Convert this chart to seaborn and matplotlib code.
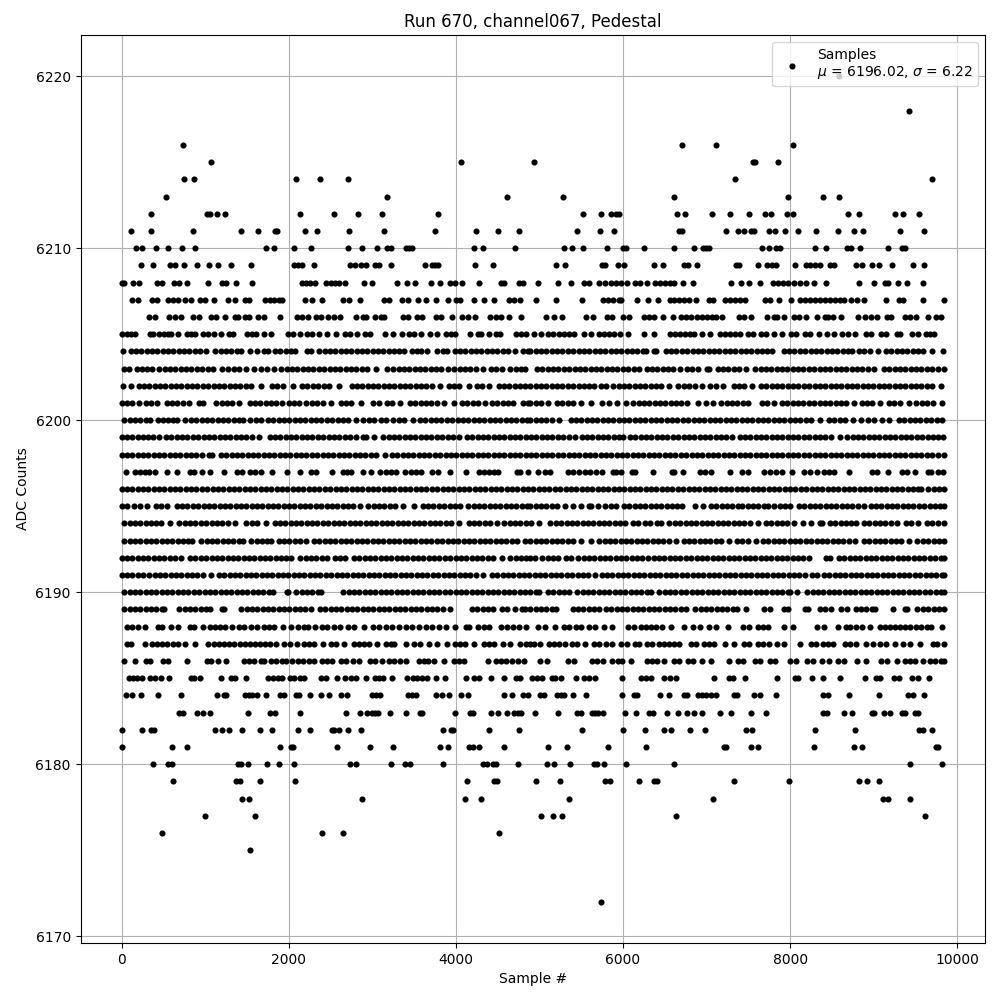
import pandas as pd
import matplotlib
matplotlib.use('Agg')
import matplotlib.pyplot as plt
import seaborn as sns

# sample numbers, one list per ADC level
s6172 = [5740]
s6175 = [1532]
s6176 = [488, 2396, 2648, 4520]
s6177 = [992, 1592, 5016, 5160, 5268, 6636, 9612]
s6178 = [1436, 1520, 2876, 4112, 4304, 5352, 7080, 9108, 9168, 9432]
s6179 = [620, 1364, 1412, 1652, 2072, 4136, 4460, 4496, 4956, 5244, 5784, 5844, 6192, 6372, 6408, 7332, 7992, 8820, 8916, 9060]
s6180 = [380, 560, 608, 1388, 1424, 1508, 1736, 1880, 2060, 2732, 2804, 3224, 3392, 3452, 3848, 4328, 4376, 4448, 4484, 4740,
         5088, 5172, 5364, 5652, 5684, 5772, 6036, 6612, 9432, 9816]
s6181 = [8, 608, 788, 1892, 2024, 2048, 2576, 2972, 3248, 3812, 3908, 4160, 4208, 4280, 4580,
         5100, 5328, 5820, 6276, 7212, 7236, 7536, 7620, 8280, 8760, 8856, 9748, 9772]
s6182 = [8, 248, 356, 392, 1112, 1196, 1280, 1436, 1652, 1796, 2108, 2252, 2516, 2540, 2600, 2708, 2864, 3848, 3944, 3968, 4400, 4760,
         5508, 6000, 6264, 6492, 6576, 6804, 6984, 7476, 7548, 8292, 8772, 9540, 9592, 9696]
s6183 = [692, 740, 908, 968, 1052, 1508, 1772, 1832, 2132, 2684, 2852, 2936, 2996, 3032, 3068, 3212, 3404, 3572, 3596, 3992, 4172, 4208,
         4424, 4508, 4616, 4700, 4740, 4784, 4944, 5220, 5448, 5496, 5628, 5664, 5700, 5760, 6024, 6156, 6312, 6360, 6528, 6660, 6768,
         6852, 6948, 7164, 7296, 7536, 7716, 8388, 8436, 8640, 8736, 8976, 9000, 9120, 9192, 9336, 9372, 9492, 9528]
s6184 = [56, 128, 236, 440, 716, 1136, 1220, 1244, 1472, 1520, 1556, 1616, 1724, 1892, 1940, 2084, 2120, 2252, 2384, 2480, 2624, 2696,
         2996, 3044, 3092, 3428, 3476, 3524, 3764, 3836, 3920, 4064, 4148, 4580, 4668, 4808, 4860, 5004, 5052, 5208, 5256, 5292, 5400,
         5556, 5992, 6132, 6168, 6444, 6552, 6732, 6768, 6900, 6948, 6996, 7056, 7116, 7332, 7368, 7572, 7644, 7836, 8388, 8448, 8700,
         9060, 9412, 9468, 9600]
s6185 = [92, 140, 188, 248, 344, 404, 476, 572, 836, 872, 944, 1184, 1304, 1352, 1484, 1748, 1808, 1868, 1916, 2012, 2060, 2140, 2180,
         2384, 2444, 2576, 2672, 2740, 2804, 2924, 3032, 3080, 3128, 3236, 3416, 3488, 3536, 3596, 3656, 3764, 3872, 4124, 4220, 4280,
         4424, 4580, 4724, 4772, 4912, 4972, 5032, 5148, 5184, 5256, 5436, 5532, 5592, 5660, 5988, 6216, 6276, 6336, 6492, 6564, 6636,
         7092, 7272, 7320, 7464, 7848, 8064, 8100, 8256, 8388, 8592, 8892, 9024, 9072, 9240, 9300, 9456, 9528, 9660]
s6186 = [32, 164, 296, 344, 500, 560, 788, 1016, 1064, 1148, 1244, 1460, 1520, 1580, 1664, 1700, 1784, 1844, 1916, 1964, 2036, 2108, 2168,
         2240, 2300, 2396, 2456, 2516, 2624, 2684, 2768, 2840, 2972, 3032, 3116, 3200, 3260, 3332, 3404, 3560, 3620, 3668, 3740, 3860,
         3980, 4040, 4100, 4388, 4480, 4540, 4600, 4668, 4740, 4820, 5004, 5092, 5340, 5412, 5628, 5692, 5764, 5868, 5940, 5988, 6096,
         6288, 6348, 6408, 6492, 6612, 6672, 6780, 6840, 6948, 7056, 7272, 7372, 7440, 7584, 7644, 7764, 7824, 8004, 8076, 8196, 8268,
         8376, 8460, 8568, 8640, 8796, 8904, 9084, 9156, 9276, 9372, 9432, 9492, 9592, 9672, 9732, 9804, 9840]
s6187 = [68, 116, 284, 368, 428, 488, 540, 620, 680, 764, 884, 1028, 1100, 1160, 1220, 1280, 1340, 1420, 1480, 1540, 1600, 1660, 1720, 1780,
         1844, 1940, 2012, 2096, 2180, 2240, 2300, 2408, 2500, 2560, 2660, 2780, 2840, 2900, 2960, 3060, 3160, 3220, 3260, 3404, 3500,
         3572, 3680, 3776, 3888, 3988, 4048, 4108, 4220, 4340, 4400, 4460, 4560, 4644, 4772, 4840, 4892, 4932, 5012, 5112, 5172, 5232,
         5304, 5392, 5452, 5544, 5652, 5712, 5792, 5872, 5972, 6052, 6140, 6192, 6292, 6352, 6432, 6492, 6552, 6612, 6672, 6812, 6872,
         6972, 7032, 7092, 7220, 7332, 7452, 7512, 7612, 7680, 7748, 7848, 7932, 8124, 8252, 8312, 8392, 8452, 8512, 8652, 8712, 8792,
         8912, 8992, 9072, 9152, 9252, 9352, 9432, 9552, 9712, 9752, 9840]
s6188 = [60, 120, 200, 280, 440, 488, 596, 680, 820, 872, 976, 1060, 1120, 1180, 1240, 1320, 1400, 1460, 1548, 1620, 1700, 1760, 1828, 1928,
         2024, 2108, 2180, 2228, 2320, 2400, 2460, 2540, 2612, 2708, 2780, 2900, 3008, 3080, 3160, 3240, 3320, 3400, 3480, 3560, 3640,
         3720, 3800, 3880, 3988, 4120, 4160, 4260, 4340, 4400, 4540, 4612, 4680, 4760, 4840, 4980, 5072, 5184, 5288, 5352, 5432, 5492,
         5592, 5664, 5772, 5872, 6064, 6132, 6212, 6272, 6332, 6392, 6472, 6572, 6724, 6832, 6924, 7032, 7112, 7252, 7432, 7512, 7612,
         7672, 7740, 7932, 8032, 8324, 8400, 8568, 8664, 8712, 8784, 8864, 8952, 9072, 9132, 9192, 9252, 9312, 9372, 9432, 9512, 9572,
         9632, 9684, 9812]
s6189 = [32, 96, 160, 224, 288, 352, 416, 480, 508, 692, 756, 820, 884, 948, 1012, 1060, 1204, 1228, 1432, 1496, 1560, 1624, 1688, 1752, 1816,
         1880, 1944, 2008, 2072, 2136, 2200, 2268, 2372, 2436, 2500, 2564, 2628, 2692, 2756, 2820, 2884, 2948, 3012, 3076, 3140, 3204,
         3268, 3332, 3396, 3460, 3524, 3588, 3652, 3716, 3780, 3844, 3928, 4192, 4256, 4320, 4384, 4448, 4552, 4616, 4708, 4792, 4828,
         4892, 4956, 5020, 5084, 5148, 5196, 5396, 5460, 5524, 5588, 5652, 5708, 5792, 5852, 5924, 5988, 6052, 6116, 6180, 6244, 6308,
         6372, 6436, 6500, 6564, 6628, 6692, 6748, 6864, 6928, 6992, 7056, 7120, 7184, 7248, 7312, 7360, 7472, 7684, 7760, 7932, 7980,
         8172, 8212, 8356, 8420, 8492, 8604, 8680, 8784, 8848, 8912, 8976, 9020, 9232, 9372, 9400, 9524, 9588, 9652, 9716, 9780, 9840]
s6190 = [32, 96, 160, 224, 288, 352, 416, 480, 544, 608, 672, 736, 800, 864, 928, 992, 1056, 1120, 1184, 1248, 1312, 1376, 1440, 1504, 1568,
         1632, 1696, 1760, 1808, 1980, 1996, 2092, 2156, 2220, 2284, 2348, 2388, 2652, 2716, 2780, 2844, 2908, 2972, 3036, 3100, 3164,
         3228, 3292, 3356, 3420, 3484, 3548, 3612, 3676, 3740, 3804, 3868, 3932, 3996, 4060, 4124, 4188, 4252, 4316, 4380, 4444, 4508,
         4572, 4636, 4700, 4764, 4828, 4892, 4956, 5000, 5104, 5168, 5232, 5296, 5348, 5452, 5516, 5580, 5644, 5708, 5772, 5836, 5900,
         5964, 6028, 6092, 6156, 6220, 6284, 6340, 6436, 6500, 6564, 6628, 6692, 6756, 6820, 6884, 6948, 7012, 7076, 7140, 7204, 7268,
         7332, 7396, 7460, 7524, 7588, 7652, 7716, 7780, 7844, 7908, 7972, 8000, 8088, 8204, 8268, 8332, 8396, 8460, 8524, 8588, 8652,
         8716, 8780, 8844, 8908, 8972, 9036, 9100, 9164, 9228, 9292, 9356, 9420, 9484, 9548, 9612, 9676, 9740, 9804, 9840]
s6191 = [0, 64, 128, 192, 260, 332, 396, 460, 524, 588, 652, 716, 780, 844, 908, 972, 1068, 1164, 1228, 1292, 1356, 1420, 1484, 1548, 1612,
         1676, 1740, 1804, 1868, 1932, 1996, 2060, 2124, 2188, 2252, 2316, 2380, 2444, 2508, 2572, 2636, 2700, 2764, 2828, 2892, 2956,
         3020, 3084, 3148, 3212, 3276, 3340, 3404, 3468, 3532, 3596, 3660, 3724, 3788, 3852, 3916, 3980, 4044, 4108, 4172, 4236, 4328,
         4432, 4496, 4560, 4624, 4688, 4752, 4816, 4880, 4944, 5008, 5072, 5136, 5200, 5264, 5328, 5392, 5456, 5520, 5584, 5660, 5744,
         5808, 5872, 5936, 6000, 6064, 6128, 6192, 6256, 6320, 6384, 6448, 6512, 6576, 6640, 6704, 6768, 6832, 6896, 6960, 7024, 7088,
         7152, 7216, 7280, 7344, 7408, 7472, 7536, 7600, 7664, 7728, 7792, 7856, 7920, 7984, 8048, 8112, 8180, 8264, 8320, 8404, 8468,
         8532, 8596, 8660, 8724, 8788, 8852, 8916, 8980, 9044, 9108, 9172, 9236, 9300, 9364, 9428, 9492, 9556, 9620, 9684, 9748, 9812, 9840]
s6192 = [0, 64, 128, 192, 256, 320, 384, 448, 512, 576, 640, 708, 820, 884, 948, 1012, 1076, 1140, 1204, 1268, 1332, 1396, 1460, 1524, 1588,
         1652, 1716, 1780, 1844, 1908, 1972, 2028, 2140, 2204, 2268, 2332, 2396, 2452, 2548, 2612, 2668, 2780, 2844, 2908, 2972, 3036,
         3100, 3164, 3228, 3292, 3356, 3420, 3484, 3548, 3612, 3676, 3740, 3804, 3868, 3932, 3996, 4060, 4124, 4188, 4252, 4316, 4380,
         4444, 4548, 4652, 4716, 4780, 4844, 4892, 4950, 5036, 5100, 5164, 5228, 5320, 5380, 5464, 5528, 5592, 5656, 5720, 5784, 5848,
         5912, 5976, 6040, 6104, 6168, 6228, 6304, 6368, 6432, 6496, 6560, 6624, 6688, 6752, 6816, 6880, 6944, 7008, 7072, 7136, 7200,
         7264, 7328, 7392, 7456, 7520, 7584, 7648, 7712, 7776, 7840, 7904, 7968, 8032, 8096, 8160, 8220, 8424, 8480, 8584, 8648, 8712,
         8776, 8840, 8904, 8968, 9032, 9096, 9160, 9224, 9288, 9352, 9416, 9480, 9544, 9608, 9672, 9736, 9800, 9840]
s6193 = [32, 96, 160, 224, 288, 352, 416, 480, 544, 608, 672, 736, 800, 848, 952, 1016, 1080, 1144, 1208, 1272, 1336, 1400, 1452, 1552, 1616,
         1680, 1744, 1788, 1880, 1944, 2008, 2072, 2136, 2208, 2300, 2364, 2428, 2492, 2556, 2620, 2684, 2748, 2812, 2876, 2940, 3004,
         3068, 3132, 3196, 3260, 3324, 3388, 3452, 3516, 3580, 3644, 3708, 3772, 3836, 3900, 3964, 4028, 4092, 4156, 4220, 4284, 4348,
         4412, 4476, 4540, 4604, 4668, 4728, 4832, 4892, 4956, 5020, 5084, 5148, 5212, 5276, 5340, 5404, 5500, 5616, 5716, 5780, 5844,
         5908, 5972, 6036, 6100, 6164, 6228, 6292, 6356, 6420, 6484, 6548, 6632, 6724, 6788, 6852, 6916, 6980, 7044, 7108, 7172, 7268,
         7364, 7428, 7492, 7588, 7676, 7740, 7804, 7868, 7932, 7996, 8060, 8124, 8188, 8252, 8316, 8380, 8444, 8508, 8572, 8636, 8700,
         8780, 8884, 8948, 9012, 9076, 9140, 9204, 9268, 9332, 9428, 9524, 9588, 9652, 9716, 9780, 9840]
s6194 = [32, 96, 160, 224, 288, 352, 416, 468, 584, 692, 756, 820, 884, 948, 1012, 1076, 1140, 1204, 1268, 1356, 1492, 1556, 1620, 1728, 1832,
         1896, 1960, 2024, 2088, 2152, 2216, 2280, 2344, 2408, 2472, 2536, 2600, 2664, 2728, 2792, 2856, 2920, 2984, 3048, 3112, 3176,
         3240, 3304, 3368, 3432, 3496, 3560, 3624, 3688, 3752, 3816, 3880, 3944, 4036, 4152, 4216, 4280, 4344, 4408, 4488, 4580, 4644,
         4708, 4772, 4836, 4900, 4998, 5132, 5196, 5260, 5324, 5388, 5452, 5516, 5580, 5644, 5708, 5772, 5836, 5900, 5964, 6020, 6124,
         6180, 6264, 6320, 6404, 6460, 6556, 6620, 6684, 6748, 6812, 6876, 6940, 7004, 7068, 7132, 7196, 7260, 7324, 7388, 7452, 7516,
         7620, 7712, 7776, 7840, 7904, 7968, 8048, 8156, 8252, 8356, 8380, 8476, 8540, 8604, 8668, 8732, 8788, 8884, 8948, 9012, 9076,
         9140, 9204, 9280, 9384, 9448, 9532, 9636, 9700, 9764, 9840]
s6195 = [0, 68, 152, 216, 308, 412, 476, 548, 660, 724, 788, 852, 916, 980, 1044, 1108, 1172, 1236, 1300, 1364, 1428, 1492, 1556, 1620, 1684,
         1748, 1812, 1876, 1940, 2004, 2068, 2132, 2196, 2260, 2324, 2388, 2452, 2516, 2580, 2644, 2708, 2772, 2848, 2952, 3016, 3080,
         3144, 3208, 3276, 3370, 3500, 3604, 3668, 3732, 3796, 3860, 3924, 3988, 4052, 4140, 4212, 4276, 4340, 4404, 4468, 4532, 4596,
         4660, 4724, 4788, 4852, 4892, 4956, 5020, 5084, 5148, 5212, 5300, 5396, 5500, 5592, 5620, 5704, 5788, 5852, 5920, 6012, 6076,
         6140, 6204, 6268, 6332, 6396, 6460, 6524, 6588, 6652, 6708, 6864, 6960, 7052, 7116, 7180, 7244, 7308, 7372, 7420, 7492, 7556,
         7620, 7684, 7732, 7812, 7876, 7940, 8000, 8104, 8168, 8232, 8296, 8360, 8424, 8488, 8552, 8616, 8680, 8744, 8808, 8880, 8964,
         9028, 9092, 9156, 9220, 9284, 9348, 9412, 9476, 9540, 9604, 9668, 9732, 9796, 9840]
s6196 = [0, 64, 128, 192, 256, 320, 384, 448, 512, 576, 640, 704, 768, 832, 896, 960, 1024, 1088, 1152, 1216, 1280, 1344, 1408, 1472, 1536,
         1600, 1664, 1728, 1792, 1856, 1920, 1984, 2048, 2112, 2176, 2240, 2304, 2368, 2432, 2496, 2560, 2624, 2688, 2752, 2816, 2880,
         2944, 3008, 3072, 3136, 3200, 3264, 3328, 3392, 3456, 3520, 3584, 3648, 3712, 3776, 3840, 3904, 3968, 4032, 4096, 4160, 4224,
         4288, 4352, 4416, 4480, 4544, 4608, 4672, 4736, 4800, 4864, 4928, 4992, 5056, 5120, 5184, 5248, 5312, 5376, 5440, 5504, 5568,
         5632, 5696, 5760, 5824, 5888, 5952, 6016, 6080, 6144, 6208, 6272, 6336, 6400, 6464, 6528, 6592, 6656, 6720, 6784, 6848, 6912,
         6976, 7040, 7104, 7168, 7232, 7296, 7360, 7424, 7488, 7552, 7616, 7680, 7744, 7808, 7872, 7936, 8000, 8064, 8128, 8192, 8256,
         8320, 8384, 8448, 8512, 8576, 8640, 8704, 8768, 8832, 8896, 8960, 9024, 9088, 9152, 9216, 9280, 9344, 9408, 9472, 9536, 9572,
         9652, 9716, 9780, 9840]
s6197 = [52, 160, 220, 280, 332, 400, 540, 660, 820, 868, 960, 1060, 1220, 1380, 1440, 1532, 1600, 1668, 1794, 1980, 2132, 2272, 2328, 2520,
         2652, 2700, 2748, 2890, 2988, 3092, 3160, 3228, 3288, 3392, 3460, 3528, 3588, 3712, 3788, 3932, 4120, 4272, 4340, 4400, 4460,
         4508, 4732, 4768, 4860, 4980, 5072, 5132, 5336, 5400, 5470, 5540, 5610, 5680, 5752, 5880, 5920, 5980, 6104, 6140, 6356, 6584,
         6612, 6720, 6916, 6980, 7052, 7284, 7420, 7500, 7684, 7760, 7830, 7900, 8020, 8164, 8240, 8316, 8400, 8470, 8520, 8700, 8984,
         9040, 9172, 9344, 9400, 9492, 9644, 9680, 9772, 9832]
s6198 = [0, 64, 128, 192, 256, 320, 384, 448, 512, 576, 640, 704, 768, 832, 896, 960, 1048, 1080, 1188, 1252, 1316, 1380, 1444, 1508, 1572,
         1636, 1700, 1764, 1828, 1892, 1956, 2020, 2084, 2148, 2212, 2276, 2340, 2404, 2468, 2532, 2596, 2660, 2724, 2788, 2852, 2916,
         2980, 3044, 3148, 3236, 3300, 3364, 3428, 3492, 3556, 3620, 3684, 3748, 3812, 3876, 3940, 4004, 4068, 4132, 4196, 4260, 4324,
         4388, 4452, 4516, 4580, 4644, 4708, 4772, 4836, 4900, 4964, 5028, 5092, 5156, 5220, 5284, 5348, 5412, 5476, 5540, 5604, 5668,
         5732, 5796, 5860, 5924, 5988, 6052, 6116, 6180, 6244, 6308, 6372, 6436, 6500, 6564, 6628, 6692, 6756, 6820, 6884, 6948, 7012,
         7076, 7140, 7204, 7268, 7332, 7396, 7460, 7524, 7588, 7652, 7716, 7780, 7844, 7908, 7972, 8036, 8100, 8164, 8228, 8292, 8356,
         8420, 8484, 8548, 8612, 8676, 8740, 8804, 8868, 8932, 8996, 9060, 9124, 9188, 9252, 9316, 9380, 9444, 9508, 9572, 9636, 9700,
         9764, 9840]
s6199 = [0, 64, 128, 192, 256, 320, 380, 452, 532, 596, 660, 724, 788, 852, 916, 980, 1044, 1108, 1172, 1236, 1300, 1364, 1428, 1492, 1556,
         1648, 1772, 1836, 1900, 1964, 2028, 2092, 2156, 2220, 2284, 2348, 2412, 2476, 2540, 2604, 2668, 2732, 2808, 2892, 2928, 3020,
         3132, 3196, 3260, 3324, 3388, 3452, 3516, 3580, 3644, 3708, 3772, 3836, 3900, 3964, 4036, 4132, 4196, 4260, 4324, 4388, 4452,
         4516, 4580, 4644, 4708, 4772, 4836, 4900, 4964, 5028, 5092, 5156, 5220, 5284, 5348, 5420, 5504, 5568, 5632, 5696, 5760, 5824,
         5888, 5952, 6000, 6084, 6148, 6212, 6276, 6340, 6404, 6468, 6532, 6596, 6660, 6724, 6788, 6852, 6916, 6980, 7044, 7108, 7172,
         7236, 7308, 7396, 7460, 7524, 7588, 7652, 7716, 7780, 7844, 7908, 7972, 8036, 8100, 8164, 8228, 8292, 8356, 8420, 8484, 8600,
         8684, 8748, 8812, 8876, 8940, 9004, 9068, 9132, 9196, 9260, 9324, 9388, 9452, 9516, 9580, 9644, 9708, 9772, 9828]
s6200 = [32, 96, 160, 224, 288, 336, 432, 496, 560, 612, 668, 764, 828, 892, 956, 1020, 1084, 1148, 1212, 1276, 1340, 1404, 1448, 1540, 1604,
         1668, 1752, 1816, 1880, 1944, 2008, 2072, 2136, 2200, 2264, 2328, 2392, 2456, 2520, 2584, 2648, 2712, 2808, 2892, 2956, 3020,
         3100, 3168, 3252, 3316, 3380, 3488, 3572, 3636, 3700, 3764, 3828, 3892, 3956, 4020, 4084, 4148, 4212, 4276, 4340, 4404, 4468,
         4532, 4596, 4660, 4724, 4788, 4852, 4892, 4956, 5020, 5084, 5148, 5240, 5372, 5436, 5500, 5564, 5628, 5692, 5756, 5820, 5884,
         5948, 6012, 6076, 6140, 6204, 6268, 6332, 6396, 6460, 6524, 6588, 6652, 6716, 6780, 6844, 6908, 6972, 7036, 7100, 7164, 7228,
         7292, 7356, 7420, 7484, 7548, 7612, 7676, 7740, 7804, 7868, 7932, 7996, 8060, 8124, 8188, 8252, 8360, 8464, 8528, 8592, 8656,
         8748, 8844, 8932, 9004, 9104, 9188, 9304, 9368, 9432, 9496, 9560, 9624, 9688, 9752, 9820]
s6201 = [0, 64, 128, 208, 292, 356, 428, 540, 604, 668, 732, 808, 924, 968, 1132, 1196, 1260, 1324, 1408, 1532, 1596, 1660, 1724, 1788, 1852,
         1916, 2004, 2068, 2128, 2212, 2276, 2340, 2404, 2500, 2620, 2684, 2748, 2868, 3004, 3076, 3172, 3236, 3328, 3452, 3516, 3580,
         3644, 3708, 3772, 3860, 3972, 4072, 4136, 4200, 4264, 4348, 4432, 4496, 4560, 4624, 4688, 4804, 4868, 4892, 4956, 5020, 5108,
         5212, 5276, 5340, 5404, 5492, 5616, 5752, 5836, 5928, 6032, 6124, 6188, 6252, 6316, 6380, 6444, 6508, 6572, 6636, 6700, 6764,
         6900, 6996, 7080, 7176, 7240, 7304, 7368, 7432, 7500, 7664, 7728, 7812, 7904, 7968, 8032, 8096, 8160, 8224, 8288, 8352, 8416,
         8480, 8544, 8608, 8672, 8760, 8856, 8920, 8984, 9080, 9184, 9248, 9312, 9420, 9512, 9576, 9640, 9704, 9812]
s6202 = [12, 108, 204, 268, 332, 396, 460, 524, 588, 652, 716, 780, 844, 908, 972, 1036, 1100, 1164, 1228, 1292, 1356, 1420, 1484, 1548, 1668,
         1800, 1864, 1928, 2048, 2160, 2224, 2288, 2352, 2416, 2480, 2596, 2752, 2816, 2880, 2944, 3008, 3072, 3136, 3200, 3264, 3328,
         3392, 3456, 3520, 3584, 3648, 3712, 3808, 3912, 3976, 4040, 4156, 4252, 4316, 4396, 4512, 4576, 4640, 4704, 4768, 4828, 4892,
         4956, 5020, 5084, 5148, 5212, 5276, 5340, 5404, 5468, 5532, 5596, 5652, 5732, 5800, 5884, 5948, 6012, 6076, 6140, 6204, 6268,
         6332, 6396, 6460, 6548, 6664, 6728, 6792, 6856, 6948, 7044, 7108, 7200, 7324, 7388, 7452, 7548, 7652, 7716, 7780, 7844, 7908,
         7972, 8036, 8100, 8164, 8228, 8292, 8356, 8420, 8484, 8548, 8612, 8676, 8740, 8804, 8868, 8932, 8996, 9060, 9124, 9188, 9252,
         9316, 9380, 9444, 9508, 9572, 9636, 9700, 9800]
s6203 = [32, 88, 180, 244, 308, 368, 452, 516, 580, 644, 708, 772, 836, 900, 964, 1028, 1092, 1196, 1276, 1340, 1404, 1488, 1580, 1672, 1736,
         1828, 1912, 1976, 2040, 2104, 2168, 2232, 2296, 2360, 2424, 2488, 2552, 2616, 2680, 2744, 2808, 2872, 2936, 3048, 3172, 3252,
         3316, 3380, 3444, 3508, 3572, 3636, 3700, 3764, 3828, 3908, 3980, 4044, 4108, 4172, 4236, 4328, 4420, 4484, 4548, 4652, 4716,
         4780, 4828, 4972, 5036, 5100, 5164, 5228, 5292, 5356, 5420, 5484, 5548, 5612, 5676, 5740, 5804, 5868, 5932, 5996, 6060, 6132,
         6192, 6284, 6348, 6412, 6476, 6540, 6604, 6680, 6764, 6828, 6900, 7004, 7028, 7132, 7196, 7260, 7324, 7388, 7468, 7584, 7648,
         7712, 7776, 7840, 7904, 7968, 8032, 8096, 8160, 8224, 8288, 8352, 8416, 8480, 8544, 8608, 8672, 8736, 8800, 8864, 8928, 9000,
         9124, 9188, 9252, 9316, 9380, 9444, 9508, 9572, 9636, 9700, 9764, 9840]
s6204 = [12, 112, 176, 228, 300, 364, 428, 492, 556, 620, 684, 748, 812, 876, 940, 1008, 1120, 1184, 1248, 1312, 1376, 1428, 1540, 1620, 1704,
         1748, 1836, 1900, 1964, 2028, 2080, 2220, 2268, 2364, 2428, 2492, 2556, 2620, 2684, 2748, 2812, 2876, 2940, 3004, 3068, 3132,
         3196, 3260, 3324, 3380, 3480, 3540, 3588, 3652, 3780, 3840, 3888, 3984, 4048, 4112, 4176, 4240, 4304, 4368, 4432, 4496, 4560,
         4624, 4708, 4804, 4868, 4892, 4956, 5020, 5084, 5148, 5212, 5276, 5340, 5404, 5468, 5532, 5596, 5660, 5724, 5788, 5852, 5916,
         5980, 6044, 6108, 6172, 6236, 6280, 6372, 6392, 6512, 6576, 6640, 6704, 6768, 6832, 6896, 6960, 7024, 7088, 7152, 7216, 7280,
         7344, 7408, 7472, 7536, 7600, 7664, 7728, 7788, 7924, 7988, 8052, 8116, 8180, 8244, 8308, 8372, 8436, 8500, 8564, 8628, 8692,
         8740, 8824, 8888, 8952, 9052, 9148, 9212, 9276, 9340, 9404, 9468, 9532, 9596, 9692, 9828]
s6205 = [0, 68, 116, 164, 344, 380, 452, 512, 560, 596, 680, 788, 836, 884, 968, 1028, 1100, 1184, 1280, 1328, 1496, 1556, 1604, 1700, 1784,
         1988, 2048, 2132, 2216, 2276, 2360, 2456, 2564, 2672, 2732, 2816, 2912, 2972, 3152, 3248, 3356, 3440, 3500, 3584, 3692, 3776,
         3884, 3944, 3992, 4172, 4268, 4304, 4400, 4484, 4532, 4724, 4784, 4844, 4932, 5016, 5100, 5160, 5232, 5292, 5352, 5412, 5532,
         5616, 5712, 5772, 5832, 5892, 5964, 6060, 6252, 6372, 6564, 6624, 6684, 6744, 6804, 6852, 6948, 7044, 7164, 7224, 7284, 7344,
         7404, 7500, 7560, 7656, 7716, 7812, 7908, 8016, 8076, 8172, 8232, 8340, 8436, 8520, 8616, 8688, 8772, 8904, 8964, 9084, 9144,
         9276, 9312, 9456, 9528, 9624, 9672, 9720]
s6206 = [332, 404, 572, 644, 716, 860, 932, 1064, 1124, 1232, 1352, 1388, 1472, 1520, 1628, 1700, 1892, 2096, 2156, 2228, 2324, 2384, 2468, 2540,
         2612, 2804, 2888, 2924, 3032, 3104, 3140, 3368, 3428, 3536, 3596, 3764, 3824, 3956, 4076, 4148, 4232, 4412, 4484, 4544, 4640,
         4784, 5076, 5172, 5268, 5556, 5640, 5808, 5868, 6000, 6072, 6252, 6312, 6372, 6480, 6600, 6696, 6756, 6816, 6888, 6948, 7008,
         7068, 7116, 7188, 7392, 7452, 7536, 7728, 7812, 7848, 7932, 8052, 8112, 8184, 8316, 8412, 8448, 8508, 8604, 8808, 8892, 8964,
         9036, 9156, 9204, 9372, 9432, 9504, 9648, 9744, 9804]
s6207 = [128, 200, 368, 428, 560, 620, 680, 764, 836, 940, 992, 1100, 1268, 1352, 1472, 1520, 1712, 1772, 1820, 1880, 1920, 2192, 2276, 2396,
         2648, 2720, 2852, 3140, 3200, 3356, 3428, 3548, 3644, 3764, 3908, 4004, 4052, 4220, 4340, 4460, 4640, 4700, 4772, 4956, 5196,
         5508, 5760, 5820, 5880, 5952, 5976, 6168, 6300, 6420, 6564, 6612, 6672, 6732, 6792, 6876, 7032, 7080, 7224, 7284, 7344, 7404,
         7464, 7704, 7764, 7872, 8016, 8124, 8172, 8232, 8292, 8352, 8412, 8472, 8532, 8592, 8640, 8724, 8796, 8880, 9144, 9300, 9348,
         9588, 9840]
s6208 = [0, 28, 140, 212, 428, 488, 632, 692, 788, 1028, 1196, 1244, 1364, 1560, 2156, 2204, 2252, 2312, 2444, 2504, 2552, 2600, 2672, 2900,
         2996, 3296, 3416, 3512, 3704, 3812, 3932, 3992, 4076, 4280, 4544, 4580, 4760, 4800, 4980, 5220, 5376, 5532, 5592, 5712, 5784,
         5856, 5916, 5976, 6048, 6144, 6204, 6288, 6384, 6444, 6504, 6564, 6612, 6720, 6840, 7296, 7416, 7512, 7644, 7800, 7860, 7920,
         7980, 8052, 8124, 8184, 8280, 8424, 8820, 9000, 9132, 9168, 9288, 9396, 9588]
s6209 = [236, 380, 584, 644, 752, 908, 1040, 1148, 1304, 1544, 2060, 2108, 2156, 2300, 2732, 2792, 2864, 2924, 3032, 3080, 3224, 3632, 3716, 3752,
         3788, 4232, 4448, 5196, 5304, 5748, 5784, 5940, 6012, 6372, 6480, 6732, 6772, 6888, 7356, 7392, 7620, 7728, 7788, 7836, 8064,
         8184, 8232, 8292, 8352, 8472, 8520, 8784, 8856, 8976, 9060, 9216, 9468, 9600]
s6210 = [176, 248, 416, 560, 728, 884, 1724, 1820, 2060, 2264, 2708, 2876, 3056, 3176, 3224, 3404, 3440, 3476, 4212, 4328, 4712,
         5292, 5388, 5520, 5808, 6000, 6040, 6252, 6612, 6852, 6952, 6992, 7032, 7668, 7752, 7836, 7876, 8292, 8424, 8676, 8724, 8832, 9176, 9344, 9376]
s6211 = [116, 356, 860, 1424, 1628, 1840, 1860, 2192, 2336, 2720, 3140, 3752, 4244, 4508, 4760, 5448, 5724, 5892, 6672, 6704, 7236, 7380, 7452,
         7536, 7568, 7752, 7824, 7944, 8100, 8304, 8568, 8760, 8868, 9312, 9600]
s6212 = [356, 1020, 1060, 1136, 1240, 2132, 2540, 2828, 3116, 3788, 5520, 5736, 5856, 5912, 5952, 6648, 6744, 7068, 7284, 7508, 7704, 7776, 7968,
         8040, 8688, 8820, 9252, 9348, 9540]
s6213 = [536, 3176, 4616, 5280, 6612, 7980, 8388, 8580]
s6214 = [752, 872, 2084, 2372, 2708, 7344, 9696]
s6215 = [1064, 4064, 4932, 7556, 7580, 7860]
s6216 = [740, 6708, 7116, 8040]
s6218 = [9420]
s6220 = [8580]

adc_levels = [6172, 6175, 6176, 6177, 6178, 6179, 6180, 6181, 6182, 6183, 6184, 6185, 6186, 6187, 6188, 6189, 6190, 6191, 6192,
              6193, 6194, 6195, 6196, 6197, 6198, 6199, 6200, 6201, 6202, 6203, 6204, 6205, 6206, 6207, 6208, 6209, 6210, 6211,
              6212, 6213, 6214, 6215, 6216, 6218, 6220]
level_samples = [s6172, s6175, s6176, s6177, s6178, s6179, s6180, s6181, s6182, s6183, s6184, s6185, s6186, s6187, s6188, s6189,
                 s6190, s6191, s6192, s6193, s6194, s6195, s6196, s6197, s6198, s6199, s6200, s6201, s6202, s6203, s6204, s6205,
                 s6206, s6207, s6208, s6209, s6210, s6211, s6212, s6213, s6214, s6215, s6216, s6218, s6220]

rows = []
for level, samples in zip(adc_levels, level_samples):
    for s in samples:
        rows.append((s, level))
df = pd.DataFrame(rows, columns=['sample', 'adc'])

fig, ax = plt.subplots(figsize=(10, 10))
sns.scatterplot(data=df, x='sample', y='adc', color='black', marker='.', s=36,
                edgecolor='black', linewidth=1.4, zorder=3, ax=ax,
                label='Samples\n$\\mu$ = 6196.02, $\\sigma$ = 6.22')
ax.set_xlim(-492, 10332)
ax.set_ylim(6169.6, 6222.4)
ax.grid(True)
ax.set_title('Run 670, channel067, Pedestal')
ax.set_xlabel('Sample #')
ax.set_ylabel('ADC Counts')
ax.legend(loc='upper right')
fig.subplots_adjust(left=0.0805, right=0.985, top=0.965, bottom=0.057)
plt.savefig('out.png', dpi=100)
